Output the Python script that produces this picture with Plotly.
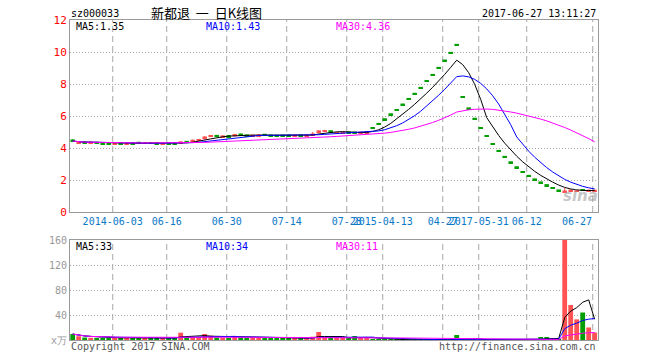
import plotly.graph_objects as go
import pandas as pd

# ---------------- data ----------------
dates = [
    "2014-05-22", "2014-05-23", "2014-05-26", "2014-05-27", "2014-05-28", "2014-05-29", "2014-05-30",
    "2014-06-03", "2014-06-04", "2014-06-05", "2014-06-06", "2014-06-09", "2014-06-10", "2014-06-11",
    "2014-06-12", "2014-06-13", "2014-06-16", "2014-06-17", "2014-06-18", "2014-06-19", "2014-06-20",
    "2014-06-23", "2014-06-24", "2014-06-25", "2014-06-26", "2014-06-27", "2014-06-30", "2014-07-01",
    "2014-07-02", "2014-07-03", "2014-07-04", "2014-07-07", "2014-07-08", "2014-07-09", "2014-07-10",
    "2014-07-11", "2014-07-14", "2014-07-15", "2014-07-16", "2014-07-17", "2014-07-18", "2014-07-21",
    "2014-07-22", "2014-07-23", "2014-07-24", "2014-07-25", "2014-07-28", "2014-07-29", "2014-07-30",
    "2014-07-31", "2015-04-09", "2015-04-10", "2015-04-13", "2015-04-14", "2015-04-15", "2015-04-16",
    "2015-04-17", "2015-04-20", "2015-04-21", "2015-04-22", "2015-04-23", "2015-04-24", "2015-04-27",
    "2015-04-28", "2015-04-29", "2017-05-24", "2017-05-25", "2017-05-26", "2017-05-31", "2017-06-01",
    "2017-06-02", "2017-06-05", "2017-06-06", "2017-06-07", "2017-06-08", "2017-06-09", "2017-06-12",
    "2017-06-13", "2017-06-14", "2017-06-15", "2017-06-16", "2017-06-19", "2017-06-20", "2017-06-21",
    "2017-06-22", "2017-06-23", "2017-06-26", "2017-06-27",
]

opens = [
    4.52, 4.31, 4.36, 4.33, 4.34, 4.31, 4.30, 4.27, 4.29, 4.27,
    4.30, 4.34, 4.30, 4.32, 4.31, 4.27, 4.29, 4.31, 4.30, 4.41,
    4.44, 4.49, 4.55, 4.73, 4.77, 4.72, 4.75, 4.73, 4.86, 4.80,
    4.77, 4.78, 4.84, 4.80, 4.78, 4.78, 4.79, 4.78, 4.79, 4.78,
    4.80, 4.93, 5.05, 5.07, 4.93, 4.95, 4.98, 4.98, 4.95, 4.97,
    5.25, 5.51, 5.80, 6.11, 6.38, 6.72, 7.07, 7.39, 7.76, 8.19,
    8.57, 9.01, 9.47, 9.95, 10.45,
    7.19, 6.48, 5.83, 5.25, 4.75, 4.25, 3.82, 3.45, 3.11, 2.80,
    2.50, 2.26, 2.04, 1.85, 1.68, 1.50, 1.35,
    1.27, 1.31, 1.30, 1.40, 1.32, 1.32,
]
highs = [
    4.55, 4.37, 4.38, 4.37, 4.35, 4.32, 4.31, 4.33, 4.30, 4.32,
    4.31, 4.37, 4.36, 4.33, 4.32, 4.30, 4.30, 4.33, 4.43, 4.43,
    4.53, 4.57, 4.74, 4.82, 4.78, 4.78, 4.76, 4.89, 4.90, 4.81,
    4.80, 4.84, 4.85, 4.80, 4.79, 4.79, 4.80, 4.80, 4.80, 4.81,
    5.00, 5.12, 5.13, 5.08, 4.97, 4.98, 4.99, 5.00, 5.02, 5.04,
    5.25, 5.51, 5.80, 6.11, 6.38, 6.72, 7.07, 7.39, 7.76, 8.19,
    8.57, 9.01, 9.47, 9.95, 10.45,
    7.19, 6.48, 5.83, 5.25, 4.75, 4.25, 3.82, 3.45, 3.11, 2.80,
    2.50, 2.26, 2.04, 1.85, 1.68, 1.50, 1.35,
    1.50, 1.40, 1.38, 1.44, 1.39, 1.37,
]
lows = [
    4.40, 4.25, 4.32, 4.31, 4.28, 4.27, 4.22, 4.24, 4.26, 4.25,
    4.27, 4.30, 4.28, 4.29, 4.28, 4.22, 4.26, 4.26, 4.29, 4.34,
    4.41, 4.46, 4.53, 4.70, 4.68, 4.70, 4.72, 4.72, 4.75, 4.76,
    4.76, 4.77, 4.82, 4.74, 4.74, 4.74, 4.75, 4.76, 4.75, 4.76,
    4.78, 4.91, 5.00, 4.96, 4.92, 4.93, 4.94, 4.93, 4.93, 4.95,
    5.25, 5.51, 5.80, 6.11, 6.38, 6.72, 7.07, 7.39, 7.76, 8.19,
    8.57, 9.01, 9.47, 9.95, 10.45,
    7.19, 6.48, 5.83, 5.25, 4.75, 4.25, 3.82, 3.45, 3.11, 2.80,
    2.50, 2.26, 2.04, 1.85, 1.68, 1.50, 1.35,
    1.25, 1.28, 1.27, 1.33, 1.30, 1.30,
]
closes = [
    4.43, 4.33, 4.34, 4.35, 4.31, 4.29, 4.27, 4.29, 4.28, 4.29,
    4.29, 4.32, 4.32, 4.31, 4.30, 4.28, 4.28, 4.29, 4.41, 4.36,
    4.47, 4.52, 4.72, 4.77, 4.75, 4.74, 4.74, 4.87, 4.83, 4.78,
    4.79, 4.81, 4.82, 4.78, 4.77, 4.78, 4.78, 4.79, 4.78, 4.79,
    4.90, 5.10, 5.07, 5.03, 4.95, 4.96, 4.97, 4.96, 4.98, 5.00,
    5.25, 5.51, 5.80, 6.11, 6.38, 6.72, 7.07, 7.39, 7.76, 8.19,
    8.57, 9.01, 9.47, 9.95, 10.45,
    7.19, 6.48, 5.83, 5.25, 4.75, 4.25, 3.82, 3.45, 3.11, 2.80,
    2.50, 2.26, 2.04, 1.85, 1.68, 1.50, 1.35,
    1.30, 1.37, 1.33, 1.36, 1.35, 1.34,
]
# volume in 万股
volumes = [
    9.5, 6.0, 4.0, 3.5, 3.0, 3.5, 4.0, 3.5, 3.0, 3.5,
    3.0, 3.5, 3.5, 3.0, 3.0, 3.5, 3.0, 3.5, 11.7, 5.0,
    4.5, 4.5, 9.6, 6.9, 4.0, 3.5, 3.5, 5.0, 4.0, 3.0,
    3.0, 3.5, 3.0, 3.0, 3.0, 3.0, 3.0, 3.0, 3.0, 3.0,
    5.3, 12.8, 4.0, 3.7, 3.7, 3.7, 3.0, 6.4, 3.7, 3.7,
    1.6, 0.3, 0.3, 0.3, 0.3, 0.3, 0.3, 0.3, 0.3, 0.3,
    0.3, 0.3, 0.3, 0.3, 8.0,
    0.3, 0.3, 0.3, 0.3, 0.3, 0.3, 0.3, 0.3, 0.3, 0.3,
    0.3, 0.3, 0.3, 4.8, 4.8, 1.0, 1.0,
    168.0, 56.0, 33.0, 44.0, 20.0, 12.0,
]

tick_dates = ["2014-06-03", "2014-06-16", "2014-06-30", "2014-07-14", "2014-07-28",
              "2015-04-13", "2015-04-27", "2017-05-31", "2017-06-12", "2017-06-27"]
tick_text = ["2014-06-03", "06-16", "06-30", "07-14", "07-28",
             "2015-04-13", "04-27", "2017-05-31", "06-12", "06-27"]
price_ticks = [0, 2, 4, 6, 8, 10, 12]
vol_ticks = [0, 40, 80, 120, 160]
vol_tick_text = ["x万", "40", "80", "120", "160"]

price_ma_text = ["MA5:1.35", "MA10:1.43", "MA30:4.36"]
vol_ma_text = ["MA5:33", "MA10:34", "MA30:11"]
ma_periods = [5, 10, 30]

code_text = "sz000033"
title_text = "新都退\u00a0\u00a0一\u00a0\u00a0日K线图"
time_text = "2017-06-27 13:11:27"
copyright_text = "Copyright 2017 SINA.COM"
url_text = "http://finance.sina.com.cn"

# ---------------- styling ----------------
RED = "#FF5252"
GREEN = "#009E00"
MA_COLORS = ["#000000", "#0000FF", "#FF00FF"]
MONO = "DejaVu Sans Mono"
GRID = "#A8A8A8"
BORDER = "#9A9A9A"

W, H = 660, 360
ML, MR, MT, MB = 70, 62, 20, 20
PW, PH = W - ML - MR, H - MT - MB

def px_x(px):
    return (px - ML) / PW

def px_y(py):
    return (H - MB - py) / PH

n = len(dates)
xs = list(range(n))
x_range = [-0.45, n - 0.45]
unit = PW / (x_range[1] - x_range[0])

colors = [RED if c > o else GREEN for o, c in zip(opens, closes)]

# candle bodies
minh = 0.12
body_base, body_h = [], []
for o, c in zip(opens, closes):
    lo, hi = min(o, c), max(o, c)
    if hi - lo < minh:
        mid = (hi + lo) / 2
        lo, hi = mid - minh / 2, mid + minh / 2
    body_base.append(lo)
    body_h.append(hi - lo)

def wick_xy(col):
    wx, wy = [], []
    for i in xs:
        if colors[i] == col and highs[i] > lows[i]:
            wx += [i, i, None]
            wy += [lows[i], highs[i], None]
    return wx, wy

close_s = pd.Series(closes)
vol_s = pd.Series(volumes)

fig = go.Figure()

fig.add_trace(go.Bar(x=xs, y=body_h, base=body_base, width=0.75,
                     marker=dict(color=colors, line=dict(width=0)),
                     xaxis="x", yaxis="y", hoverinfo="skip"))
for col in (RED, GREEN):
    wx, wy = wick_xy(col)
    fig.add_trace(go.Scatter(x=wx, y=wy, mode="lines", line=dict(color=col, width=1),
                             xaxis="x", yaxis="y", hoverinfo="skip"))
for p, mc in zip(ma_periods, MA_COLORS):
    fig.add_trace(go.Scatter(x=xs, y=close_s.rolling(p, min_periods=1).mean(), mode="lines",
                             line=dict(color=mc, width=1), xaxis="x", yaxis="y",
                             hoverinfo="skip"))

fig.add_trace(go.Bar(x=xs, y=volumes, width=0.8,
                     marker=dict(color=colors, line=dict(width=0)),
                     xaxis="x2", yaxis="y2", hoverinfo="skip"))
for p, mc in zip(ma_periods, MA_COLORS):
    fig.add_trace(go.Scatter(x=xs, y=vol_s.rolling(p, min_periods=1).mean(), mode="lines",
                             line=dict(color=mc, width=1), xaxis="x2", yaxis="y2",
                             hoverinfo="skip"))

# tick / grid positions
grid_pos = [dates.index(d) - 0.33 for d in tick_dates]
label_pos = []
for gp, t in zip(grid_pos, tick_text):
    half = len(t) * 6.0 / 2 / unit
    max_center = x_range[1] - half - 1.0
    label_pos.append(min(gp, max_center))

shapes = []
for gp in grid_pos:
    for yref in ("y domain", "y2 domain"):
        shapes.append(dict(type="line", xref="x" if yref == "y domain" else "x2", yref=yref,
                           x0=gp, x1=gp, y0=0, y1=1, layer="below",
                           line=dict(color=GRID, width=1, dash="6px,4px")))

common_x = dict(range=x_range, showgrid=False, zeroline=False, showline=True, mirror=True,
                linecolor=BORDER, linewidth=1, ticks="", fixedrange=True)

fig.update_layout(
    width=W, height=H,
    margin=dict(l=ML, r=MR, t=MT, b=MB),
    paper_bgcolor="white", plot_bgcolor="white",
    showlegend=False, barmode="overlay",
    xaxis=dict(**common_x, domain=[0, 1], anchor="y",
               tickmode="array", tickvals=label_pos, ticktext=tick_text, tickangle=0,
               tickfont=dict(family=MONO, size=10, color="#0A78C8")),
    yaxis=dict(domain=[px_y(212), 1], range=[0, 12], tickmode="array", tickvals=price_ticks,
               tickfont=dict(family=MONO, size=11, color="#FF0000"),
               showgrid=True, gridcolor=GRID, griddash="1px,2px", gridwidth=1,
               zeroline=False, showline=True, mirror=True, linecolor=BORDER, ticks="",
               fixedrange=True),
    xaxis2=dict(**common_x, domain=[0, 1], anchor="y2", showticklabels=False, matches="x"),
    yaxis2=dict(domain=[0, px_y(240)], range=[0, 160], tickmode="array", tickvals=vol_ticks,
                ticktext=vol_tick_text, tickfont=dict(family=MONO, size=10, color="#999999"),
                showgrid=True, gridcolor=GRID, griddash="1px,2px", gridwidth=1,
                zeroline=False, showline=True, mirror=True, linecolor=BORDER, ticks="",
                fixedrange=True),
    shapes=shapes,
)

ann = []
def add_text(text, px, py, anchor, color="#000000", size=10, family=MONO):
    ann.append(dict(text=text, x=px_x(px), y=px_y(py), xref="paper", yref="paper",
                    xanchor=anchor, yanchor="middle", showarrow=False,
                    font=dict(family=family, size=size, color=color), borderpad=0))

add_text(code_text, 70, 13.5, "left")
add_text(title_text, 206, 13, "center", size=13, family="Noto Sans CJK SC")
add_text(time_text, 597, 13.5, "right")
for t, px, mc in zip(price_ma_text, [75, 205, 335], MA_COLORS):
    add_text(t, px, 26.5, "left", color=mc)
for t, px, mc in zip(vol_ma_text, [75, 205, 335], MA_COLORS):
    add_text(t, px, 246.5, "left", color=mc)
add_text(copyright_text, 70, 346, "left", color="#555555")
add_text(url_text, 597, 346, "right", color="#555555")
add_text("<b><i>sina</i></b>", 580, 196, "center", color="rgba(150,150,150,0.55)", size=15,
         family="DejaVu Sans")
fig.update_layout(annotations=ann)

fig.write_html("out.html")
